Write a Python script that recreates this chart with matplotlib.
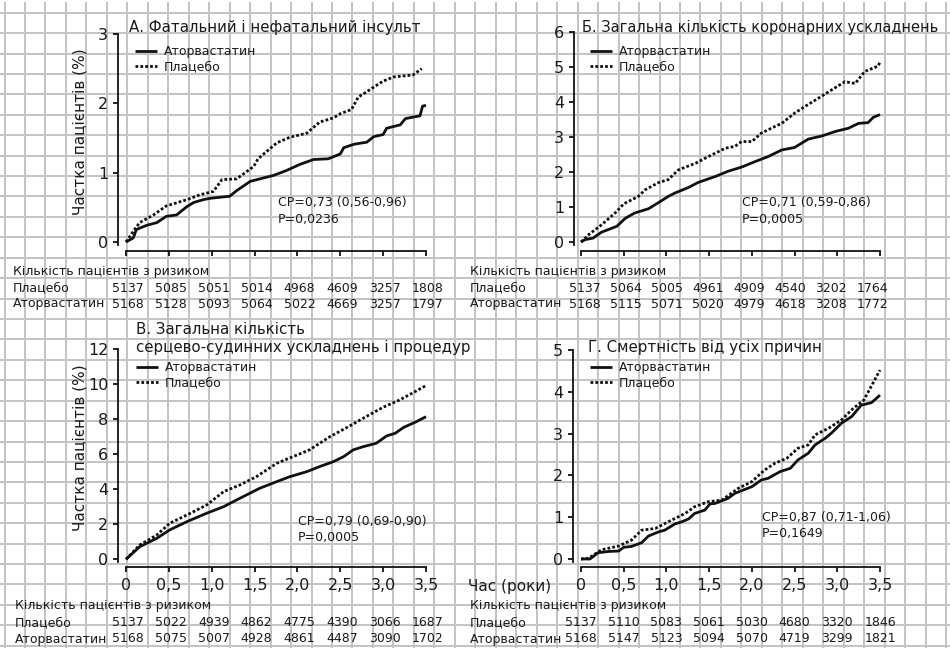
import numpy as np
import matplotlib
matplotlib.use('Agg')
import matplotlib.pyplot as plt
from matplotlib import transforms

plt.rcParams['font.family'] = ['DejaVu Sans']

W, H = 950, 648
DPI = 100

# ---------------- data ----------------
years = [0, 0.5, 1.0, 1.5, 2.0, 2.5, 3.0, 3.5]
year_labels = ['0', '0,5', '1,0', '1,5', '2,0', '2,5', '3,0', '3,5']
series_labels = ['Аторвастатин', 'Плацебо']
risk_header = 'Кількість пацієнтів з ризиком'
risk_rows = ['Плацебо', 'Аторвастатин']
ylabel_text = 'Частка пацієнтів (%)'
xlabel_text = 'Час (роки)'

# Panel А
a_title = ['А. Фатальний і нефатальний інсульт']
a_t_ator = [0, 0.086, 0.12, 0.24, 0.36, 0.47, 0.59, 0.71, 0.79, 0.90, 0.98, 1.21, 1.29, 1.45, 1.56, 1.72,
            1.87, 2.03, 2.19, 2.36, 2.50, 2.54, 2.66, 2.81, 2.89, 3.00, 3.04, 3.20, 3.26, 3.43, 3.46, 3.50]
a_y_ator = [0, 0.06, 0.18, 0.24, 0.28, 0.37, 0.39, 0.51, 0.57, 0.61, 0.63, 0.66, 0.74, 0.875, 0.91, 0.96,
            1.03, 1.12, 1.19, 1.20, 1.27, 1.36, 1.41, 1.44, 1.52, 1.55, 1.64, 1.69, 1.78, 1.82, 1.96, 1.97]
a_t_plac = [0, 0.10, 0.16, 0.32, 0.47, 0.71, 0.86, 1.02, 1.12, 1.29, 1.49, 1.54, 1.76, 1.91, 2.11, 2.26,
            2.42, 2.50, 2.63, 2.71, 2.85, 2.91, 3.00, 3.12, 3.35, 3.45]
a_y_plac = [0, 0.18, 0.28, 0.39, 0.52, 0.61, 0.68, 0.73, 0.90, 0.91, 1.09, 1.20, 1.43, 1.51, 1.57, 1.73,
            1.79, 1.85, 1.91, 2.09, 2.20, 2.25, 2.32, 2.38, 2.41, 2.50]
a_risk_plac = [5137, 5085, 5051, 5014, 4968, 4609, 3257, 1808]
a_risk_ator = [5168, 5128, 5093, 5064, 5022, 4669, 3257, 1797]
a_stats = ['СР=0,73 (0,56-0,96)', 'Р=0,0236']
a_yticks = [0, 1, 2, 3]

# Panel Б
b_title = ['Б. Загальна кількість коронарних ускладнень']
b_t_ator = [0, 0.05, 0.14, 0.24, 0.42, 0.52, 0.63, 0.79, 0.91, 1.02, 1.10, 1.26, 1.37, 1.57, 1.72, 1.88,
            2.04, 2.19, 2.35, 2.50, 2.66, 2.82, 2.98, 3.13, 3.25, 3.36, 3.42, 3.50]
b_y_ator = [0, 0.07, 0.11, 0.28, 0.45, 0.68, 0.83, 0.95, 1.13, 1.30, 1.40, 1.56, 1.70, 1.87, 2.02, 2.14,
            2.30, 2.44, 2.63, 2.70, 2.94, 3.03, 3.16, 3.25, 3.39, 3.41, 3.56, 3.64]
b_t_plac = [0, 0.09, 0.24, 0.40, 0.50, 0.67, 0.75, 0.91, 1.02, 1.14, 1.34, 1.49, 1.69, 1.80, 1.88, 2.00,
            2.11, 2.27, 2.35, 2.50, 2.62, 2.78, 2.93, 3.09, 3.21, 3.32, 3.48, 3.50]
b_y_plac = [0, 0.21, 0.49, 0.83, 1.09, 1.30, 1.49, 1.70, 1.78, 2.06, 2.25, 2.44, 2.68, 2.73, 2.87, 2.87,
            3.11, 3.30, 3.39, 3.68, 3.87, 4.11, 4.34, 4.58, 4.53, 4.87, 5.03, 5.15]
b_risk_plac = [5137, 5064, 5005, 4961, 4909, 4540, 3202, 1764]
b_risk_ator = [5168, 5115, 5071, 5020, 4979, 4618, 3208, 1772]
b_stats = ['СР=0,71 (0,59-0,86)', 'Р=0,0005']
b_yticks = [0, 1, 2, 3, 4, 5, 6]

# Panel В
c_title = ['В. Загальна кількість', 'серцево-судинних ускладнень і процедур']
c_t_ator = [0, 0.16, 0.36, 0.51, 0.71, 0.94, 1.14, 1.33, 1.56, 1.76, 1.91, 2.11, 2.26, 2.42, 2.54, 2.65,
            2.77, 2.92, 3.04, 3.14, 3.24, 3.39, 3.50]
c_y_ator = [0, 0.72, 1.20, 1.68, 2.15, 2.63, 3.01, 3.49, 4.06, 4.44, 4.72, 5.01, 5.30, 5.58, 5.87, 6.25,
            6.44, 6.63, 7.05, 7.20, 7.54, 7.87, 8.15]
c_t_plac = [0, 0.16, 0.36, 0.51, 0.71, 0.94, 1.14, 1.33, 1.52, 1.76, 1.95, 2.14, 2.38, 2.61, 2.80, 3.00,
            3.19, 3.35, 3.49]
c_y_plac = [0, 0.82, 1.39, 2.06, 2.53, 3.10, 3.87, 4.25, 4.72, 5.49, 5.87, 6.25, 7.01, 7.62, 8.15, 8.69,
            9.10, 9.52, 9.90]
c_risk_plac = [5137, 5022, 4939, 4862, 4775, 4390, 3066, 1687]
c_risk_ator = [5168, 5075, 5007, 4928, 4861, 4487, 3090, 1702]
c_stats = ['СР=0,79 (0,69-0,90)', 'Р=0,0005']
c_yticks = [0, 2, 4, 6, 8, 10, 12]

# Panel Г
d_title = ['Г. Смертність від усіх причин']
d_t_ator = [0, 0.105, 0.20, 0.32, 0.44, 0.50, 0.59, 0.67, 0.71, 0.79, 0.91, 0.98, 1.10, 1.18, 1.26, 1.33,
            1.45, 1.51, 1.57, 1.72, 1.80, 2.00, 2.11, 2.19, 2.33, 2.45, 2.54, 2.66, 2.74, 2.86, 2.93, 3.05,
            3.17, 3.28, 3.40, 3.50]
d_y_ator = [0, 0, 0.15, 0.18, 0.19, 0.28, 0.30, 0.36, 0.39, 0.55, 0.65, 0.69, 0.84, 0.89, 0.96, 1.09,
            1.17, 1.32, 1.33, 1.45, 1.57, 1.73, 1.89, 1.93, 2.09, 2.17, 2.37, 2.53, 2.73, 2.89, 3.01, 3.25,
            3.41, 3.68, 3.74, 3.92]
d_t_plac = [0, 0.09, 0.24, 0.44, 0.59, 0.71, 0.87, 1.02, 1.22, 1.33, 1.49, 1.65, 1.84, 2.00, 2.15, 2.27,
            2.41, 2.54, 2.66, 2.74, 2.90, 3.05, 3.19, 3.31, 3.50]
d_y_plac = [0, 0.02, 0.22, 0.31, 0.45, 0.69, 0.73, 0.89, 1.09, 1.25, 1.37, 1.41, 1.69, 1.85, 2.13, 2.29,
            2.41, 2.65, 2.73, 2.97, 3.13, 3.33, 3.61, 3.80, 4.52]
d_risk_plac = [5137, 5110, 5083, 5061, 5030, 4680, 3320, 1846]
d_risk_ator = [5168, 5147, 5123, 5094, 5070, 4719, 3299, 1821]
d_stats = ['СР=0,87 (0,71-1,06)', 'Р=0,1649']
d_yticks = [0, 1, 2, 3, 4, 5]

# ---------------- layout (pixels) ----------------
TXT = '#1a1a1a'
fig = plt.figure(figsize=(W / DPI, H / DPI), dpi=DPI, facecolor='white')

def fx(px):
    return px / W

def fy(py):
    return 1 - py / H

def pt(px):
    return px * 72.0 / DPI

# graph-paper background
bg = fig.add_axes([0, 0, 1, 1], zorder=-10)
bg.set_xlim(0, W)
bg.set_ylim(H, 0)
bg.axis('off')
grid_col = '#c3c3c3'
for gx in np.arange(4.5, W, 20.47):
    bg.plot([gx, gx], [2, H], color=grid_col, lw=1.4, solid_capstyle='butt')
for gy in np.arange(12.7, H, 20.42):
    bg.plot([0, W], [gy, gy], color=grid_col, lw=1.4, solid_capstyle='butt')

panels = [
    dict(title=a_title, ta=a_t_ator, ya=a_y_ator, tp=a_t_plac, yp=a_y_plac, rp=a_risk_plac, ra=a_risk_ator,
         stats=a_stats, yticks=a_yticks, box=(126, 426, 34, 245), y0px=242,
         ysp=8, xsp=6, title_xy=(129, 27), title_fs=10.8, leg_xy=(135, 45), stats_xy=(278, 203),
         ylab=(80, 132), tab_x=13, tab_y=(271, 288, 304), col=(0.023, 1.0), xlab=False),
    dict(title=b_title, ta=b_t_ator, ya=b_y_ator, tp=b_t_plac, yp=b_y_plac, rp=b_risk_plac, ra=b_risk_ator,
         stats=b_stats, yticks=b_yticks, box=(581, 880, 32, 245), y0px=242,
         ysp=7, xsp=6, title_xy=(582, 27), title_fs=10.5, leg_xy=(590, 45), stats_xy=(742, 203),
         ylab=None, tab_x=470, tab_y=(271, 288, 304), col=(0.047, 0.96), xlab=False),
    dict(title=c_title, ta=c_t_ator, ya=c_y_ator, tp=c_t_plac, yp=c_y_plac, rp=c_risk_plac, ra=c_risk_ator,
         stats=c_stats, yticks=c_yticks, box=(126, 426, 349.3, 562), y0px=559.3,
         ysp=8, xsp=5, title_xy=(136, 330), title_fs=10.8, leg_xy=(136, 361), stats_xy=(298, 522),
         ylab=(80, 448), tab_x=15, tab_y=(606, 623, 639), col=(0.023, 1.0), xlab=True),
    dict(title=d_title, ta=d_t_ator, ya=d_y_ator, tp=d_t_plac, yp=d_y_plac, rp=d_risk_plac, ra=d_risk_ator,
         stats=d_stats, yticks=d_yticks, box=(581, 880, 350, 562), y0px=559,
         ysp=8, xsp=5, title_xy=(588, 347), title_fs=10.8, leg_xy=(590, 361), stats_xy=(762, 517),
         ylab=None, tab_x=470, tab_y=(606, 623, 639), col=(0.0, 1.0), xlab=True),
]

for p in panels:
    l, r, t, b = p['box']
    ax = fig.add_axes([fx(l), fy(b), (r - l) / W, (b - t) / H])
    ax.patch.set_alpha(0)
    ytop = p['yticks'][-1]
    ppu = (p['y0px'] - t) / ytop
    ax.set_ylim(-(b - p['y0px']) / ppu, ytop)
    ax.set_xlim(0, 3.5)

    la, = ax.plot(p['ta'], p['ya'], color='#111111', lw=2.0, solid_capstyle='butt',
                  solid_joinstyle='round', label=series_labels[0], clip_on=False)
    lp, = ax.plot(p['tp'], p['yp'], color='#111111', lw=2.0, linestyle=(0, (1.0, 0.75)),
                  dash_capstyle='butt', label=series_labels[1], clip_on=False)

    for side in ('top', 'right'):
        ax.spines[side].set_visible(False)
    ax.spines['left'].set_position(('outward', pt(p['ysp'])))
    ax.spines['bottom'].set_position(('outward', pt(p['xsp'])))
    for side in ('left', 'bottom'):
        ax.spines[side].set_linewidth(1.3)
        ax.spines[side].set_color('#111111')
    ax.set_yticks(p['yticks'])
    ax.set_yticklabels([str(v) for v in p['yticks']])
    ax.set_xticks(years)
    ax.set_xticklabels(year_labels)
    ax.tick_params(axis='both', direction='out', length=pt(5), width=1.3, color='#111111',
                   labelsize=11.5, labelcolor=TXT)
    ax.tick_params(axis='y', pad=3.5)
    ax.tick_params(axis='x', pad=4.5, labelbottom=p['xlab'])

    # title
    tx, ty = p['title_xy']
    for i, line in enumerate(p['title']):
        fig.text(fx(tx), fy(ty + 17 * i), line, fontsize=p['title_fs'], color=TXT, ha='left', va='center')

    # legend
    lx, ly = p['leg_xy']
    ax.legend(handles=[la, lp], labels=series_labels, loc='upper left',
              bbox_to_anchor=(fx(lx), fy(ly)), bbox_transform=fig.transFigure,
              frameon=False, fontsize=9, borderpad=0, borderaxespad=0,
              handlelength=1.75, handletextpad=0.55, labelspacing=0.22, labelcolor=TXT)

    # stats
    sx, sy = p['stats_xy']
    fig.text(fx(sx), fy(sy), p['stats'][0], fontsize=9, color=TXT, ha='left', va='center')
    fig.text(fx(sx), fy(sy + 16), p['stats'][1], fontsize=9, color=TXT, ha='left', va='center')

    # y label
    if p['ylab'] is not None:
        fig.text(fx(p['ylab'][0]), fy(p['ylab'][1]), ylabel_text, rotation=90, fontsize=11,
                 color=TXT, ha='center', va='center')

    # at-risk table
    tyh, typ, tya = p['tab_y']
    fig.text(fx(p['tab_x']), fy(tyh), risk_header, fontsize=9, color=TXT, ha='left', va='center')
    fig.text(fx(p['tab_x']), fy(typ), risk_rows[0], fontsize=9, color=TXT, ha='left', va='center')
    fig.text(fx(p['tab_x']), fy(tya), risk_rows[1], fontsize=9, color=TXT, ha='left', va='center')
    trans = transforms.blended_transform_factory(ax.transData, fig.transFigure)
    off, sc = p['col']
    for yr, vp, va_ in zip(years, p['rp'], p['ra']):
        xc = off + sc * yr
        ax.text(xc, fy(typ), str(vp), transform=trans, fontsize=9, color=TXT,
                ha='center', va='center', clip_on=False)
        ax.text(xc, fy(tya), str(va_), transform=trans, fontsize=9, color=TXT,
                ha='center', va='center', clip_on=False)

# x label for the bottom row
fig.text(fx(468), fy(587), xlabel_text, fontsize=11, color=TXT, ha='left', va='center')

fig.savefig('out.png', dpi=DPI, facecolor='white')
